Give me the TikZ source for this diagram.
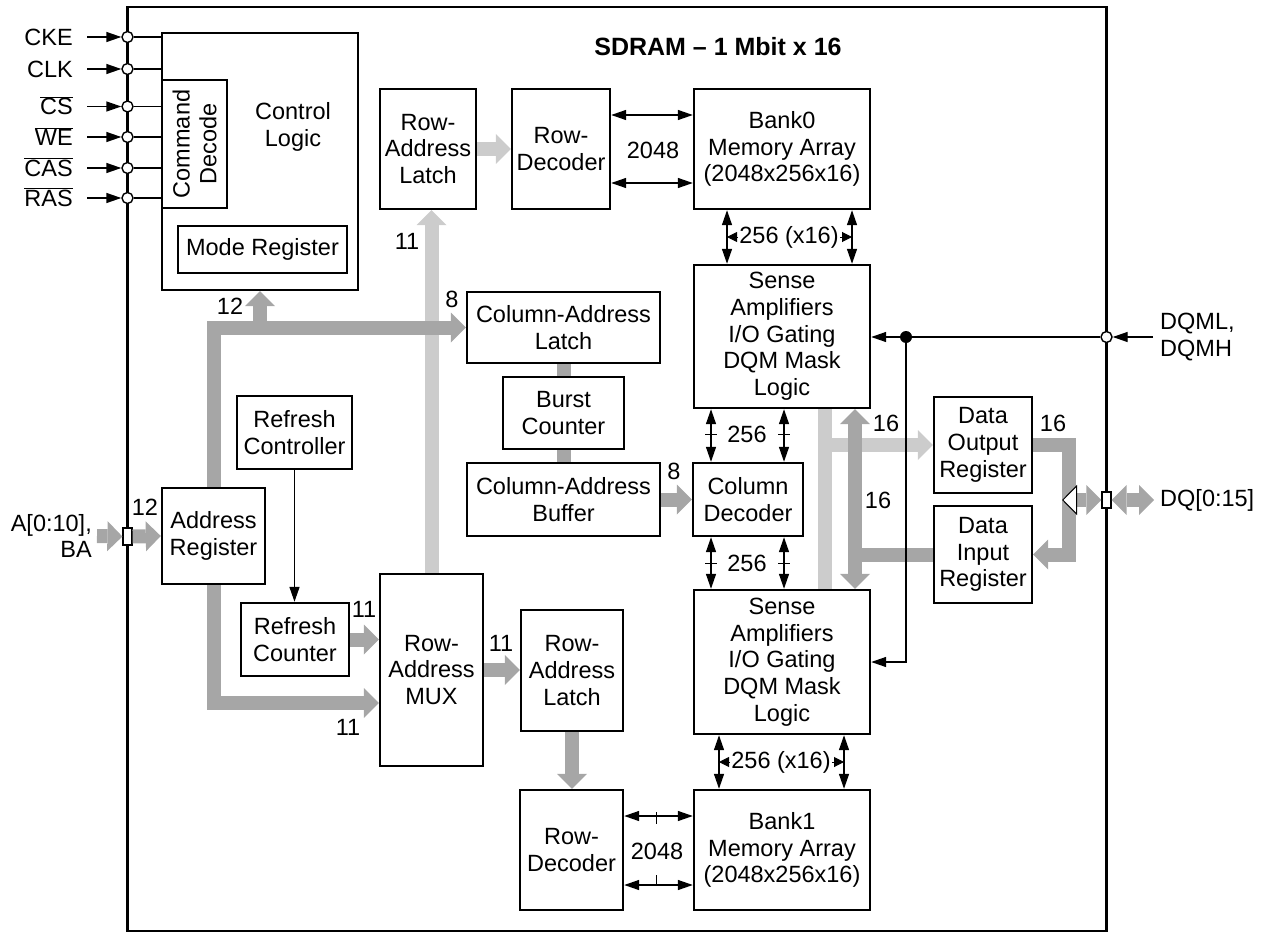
\documentclass[tikz,border=0pt]{standalone}
\usepackage{fontspec}
\setmainfont{Liberation Sans}
\usetikzlibrary{arrows.meta,positioning}

\definecolor{busLight}{gray}{0.80}
\definecolor{busMid}{gray}{0.65}

\begin{document}
\begin{tikzpicture}
[x=1pt,y=-1pt,>={Triangle[length=15pt,width=10pt]},
 font=\fontsize{23.5}{26.7}\selectfont, inner sep=1pt,
 BusTip/.tip={Triangle[length=15pt,width=30pt,line width=0pt]},
 OpenTip/.tip={Triangle[length=15pt,width=30pt,fill=white,color=black,line width=1pt]},
 box/.style = {draw, line width=2.4pt, fill=white, align=center},
 subbox/.style = {draw, line width=1.4pt, fill=white, align=center},
 sig/.style = {line width=1.4pt, ->},
 dsig/.style = {line width=1.4pt, <->},
 tinyarr/.style = {line width=1pt, -{Triangle[length=10pt,width=10pt]}},
 bus/.style = {line width=14pt, line join=miter, -{BusTip}},
 lbus/.style = {bus, draw=busLight},
 mbus/.style = {bus, draw=busMid},
 padring/.style = {draw, circle, fill=white, line width=1.4pt, minimum size=11pt, inner sep=0pt},
 padbox/.style = {draw, fill=white, line width=1.2pt, minimum width=9pt, minimum height=17pt, inner sep=0pt},
 tick/.style = {line width=1pt},
]
\useasboundingbox (0,0) rectangle (1265,936);
\draw[line width=2.2pt] (127.5,7) rectangle (1106.5,931);
\node (title) at (718,47) [font=\bfseries\fontsize{25}{30}\selectfont] {SDRAM – 1 Mbit x 16};

\node (ctrl) at (260,161.5) [box, minimum width=196pt, minimum height=257pt] {};
\node (ctrlTxt) at (293,127) [align=center] {Control\\Logic};
\node (cmd) at (194.5,144) [subbox, minimum width=65pt, minimum height=128pt] {};
\node (cmdTxt) at (cmd) [rotate=90, align=center] {Command\\Decode};
\node (mode) at (262.5,249.5) [subbox, minimum width=169pt, minimum height=47pt] {Mode Register};

\node (ralT) at (428,149) [box, minimum width=96pt, minimum height=120pt] {Row-\\Address\\Latch};
\node (rdecT) at (561,149) [box, minimum width=98pt, minimum height=120pt] {Row-\\Decoder};
\node (bank0) at (782,149) [box, minimum width=176pt, minimum height=120pt] {Bank0\\Memory Array\\(2048x256x16)};
\node (sense0) at (782,336.5) [box, minimum width=176pt, minimum height=143pt] {Sense\\Amplifiers\\I/O Gating\\DQM Mask\\Logic};
\node (caLatch) at (563.5,327.5) [box, minimum width=193pt, minimum height=71pt] {Column-Address\\Latch};
\node (burst) at (563.5,413) [box, minimum width=121pt, minimum height=72pt] {Burst\\Counter};
\node (caBuf) at (563.5,499.5) [box, minimum width=193pt, minimum height=73pt] {Column-Address\\Buffer};
\node (colDec) at (748,499.5) [box, minimum width=110pt, minimum height=73pt] {Column\\Decoder};
\node (sense1) at (782,662) [box, minimum width=176pt, minimum height=144pt] {Sense\\Amplifiers\\I/O Gating\\DQM Mask\\Logic};
\node (bank1) at (782,850) [box, minimum width=176pt, minimum height=120pt] {Bank1\\Memory Array\\(2048x256x16)};
\node (rdecB) at (571.5,850) [box, minimum width=103pt, minimum height=120pt] {Row-\\Decoder};
\node (ralB) at (572,670.5) [box, minimum width=102pt, minimum height=121pt] {Row-\\Address\\Latch};
\node (mux) at (431.5,670) [box, minimum width=103pt, minimum height=192pt] {Row-\\Address\\MUX};
\node (addrReg) at (213.5,536) [box, minimum width=103pt, minimum height=96pt] {Address\\Register};
\node (refCtrl) at (294.5,432.5) [box, minimum width=115pt, minimum height=73pt] {Refresh\\Controller};
\node (refCnt) at (295,639.5) [box, minimum width=108pt, minimum height=73pt] {Refresh\\Counter};
\node (dout) at (983,445) [box, minimum width=98pt, minimum height=96pt] {Data\\Output\\Register};
\node (din) at (983,554.5) [box, minimum width=98pt, minimum height=97pt] {Data\\Input\\Register};

% control inputs
\foreach \nm/\txt/\yy in {cke/CKE/37, clk/CLK/69, cs/$\overline{\mbox{CS}}$/106.5, we/$\overline{\mbox{WE}}$/137, cas/$\overline{\mbox{CAS}}$/168, ras/$\overline{\mbox{RAS}}$/198}
{
  \node (\nm Lbl) at (74,\yy+8.4) [anchor=base east] {\txt};
  \node (\nm Ring) at (127.5,\yy) [padring] {};
  \coordinate (\nm Src) at (87,\yy);
  \draw[sig] (\nm Src) -- (\nm Ring);
  \draw[line width=1.4pt] (\nm Ring) -- (\nm Ring -| ctrl.west);
}

% address path
\node (aLbl) at (93,536) [anchor=east, align=right] {A[0:10],\\BA};
\node (aPad) at (127.5,536.5) [padbox] {};
\coordinate (aSrc) at (97,536);
\draw[mbus] (aSrc) -- (aPad.west);
\draw[mbus] (aPad.east) -- (addrReg.west);
\node (w12a) at (145,507) {12};

\draw[lbus] (mux.north) -- (mux.north |- ralT.south);
\node (w11c) at (407,241) {11};
\draw[lbus] (ralT) -- (rdecT);
\draw[mbus] (addrReg.north) |- (caLatch.west);
\draw[mbus] (ctrl.south |- caLatch.west) -- (ctrl.south);
\node (w12b) at (230,306) {12};
\node (w8a) at (452,299) {8};
\draw[mbus] (addrReg.south) |- (mux.west |- 0,703);
\node (w11b) at (348,727) {11};
\draw[sig] (refCtrl) -- (refCtrl |- refCnt.north);
\draw[mbus] (refCnt) -- (refCnt -| mux.west);
\node (w11a) at (364,609) {11};
\draw[mbus] (mux.east) -- (mux.east -| ralB.west);
\node (w11d) at (501,643) {11};
\draw[mbus] (ralB) -- (ralB |- rdecB.north);

\draw[mbus, -] (caLatch) -- (burst);
\draw[mbus, -] (burst) -- (burst |- caBuf.north);
\draw[mbus] (caBuf) -- (colDec);
\node (w8b) at (674,471) {8};

% array connections
\draw[dsig] (rdecT.east |- 0,115) -- (bank0.west |- 0,115);
\draw[dsig] (rdecT.east |- 0,183) -- (bank0.west |- 0,183);
\node (n2048a) at (653,150) {2048};

\draw[dsig] (bank0.south -| 727,0) -- (sense0.north -| 727,0);
\draw[dsig] (bank0.south -| 852,0) -- (sense0.north -| 852,0);
\node (x16a) at (789,237) {256 (x16)};
\draw[tinyarr] (x16a.west) -- (x16a.west -| 727,0);
\draw[tinyarr] (x16a.east) -- (x16a.east -| 852,0);

\foreach \xx in {711,784} {
  \draw[dsig] (sense0.south -| \xx,0) -- (colDec.north -| \xx,0);
  \draw[dsig] (colDec.south -| \xx,0) -- (sense1.north -| \xx,0);
  \draw[tick] (\xx-6,434) -- (\xx+6,434);
  \draw[tick] (\xx-6,563) -- (\xx+6,563);
}
\node (n256a) at (747,434) {256};
\node (n256b) at (747,563) {256};

\draw[dsig] (sense1.south -| 719,0) -- (bank1.north -| 719,0);
\draw[dsig] (sense1.south -| 844,0) -- (bank1.north -| 844,0);
\node (x16b) at (781,762) {256 (x16)};
\draw[tinyarr] (x16b.west) -- (x16b.west -| 719,0);
\draw[tinyarr] (x16b.east) -- (x16b.east -| 844,0);

\draw[dsig] (rdecB.east |- 0,816) -- (bank1.west |- 0,816);
\draw[dsig] (rdecB.east |- 0,885) -- (bank1.west |- 0,885);
\draw[tick] (656,812) -- (656,824);
\draw[tick] (656,875) -- (656,886);
\node (n2048b) at (657,851) {2048};

% data path
\coordinate (lbx) at (825,0);
\coordinate (mbx) at (855,0);
\draw[lbus, -] (sense0.south -| lbx) -- (sense1.north -| lbx);
\draw[lbus] (dout.west -| lbx) -- (dout.west);
\draw[mbus, {BusTip}-{BusTip}] (sense0.south -| mbx) -- (sense1.north -| mbx);
\draw[mbus, -] (din.west) -- (din.west -| mbx);
\node (w16a) at (886,423) {16};
\node (w16b) at (878,500) {16};

\coordinate (dqJ) at (1069,500);
\coordinate (dqTip) at (1062,500);
\coordinate (dqSrc) at (1154,500);
\node (dqLbl) at (1159,500) [anchor=west] {DQ[0:15]};
\node (dqPad) at (1106.5,500) [padbox, minimum height=16pt] {};
\draw[mbus] (dout.east) -| (dqJ) |- (din.east);
\node (w16c) at (1053,423) {16};
\draw[mbus, {OpenTip}-{BusTip}] (dqTip) -- (dqPad.west);
\draw[mbus, {BusTip}-{BusTip}] (dqPad.east) -- (dqSrc);

% mask inputs
\node (dqmLbl) at (1159,337) [anchor=west, align=left] {DQML,\\DQMH};
\node (dqmRing) at (1106.5,337) [padring] {};
\node (dqmDot) at (906,337) [circle, fill, inner sep=0pt, minimum size=12pt] {};
\coordinate (dqmSrc) at (1153,337);
\draw[sig] (dqmSrc) -- (dqmRing);
\draw[line width=1.4pt] (dqmRing) -- (dqmDot);
\draw[sig] (dqmDot) -- (sense0.east |- dqmDot);
\draw[sig] (dqmDot) |- (sense1.east);
\end{tikzpicture}
\end{document}
